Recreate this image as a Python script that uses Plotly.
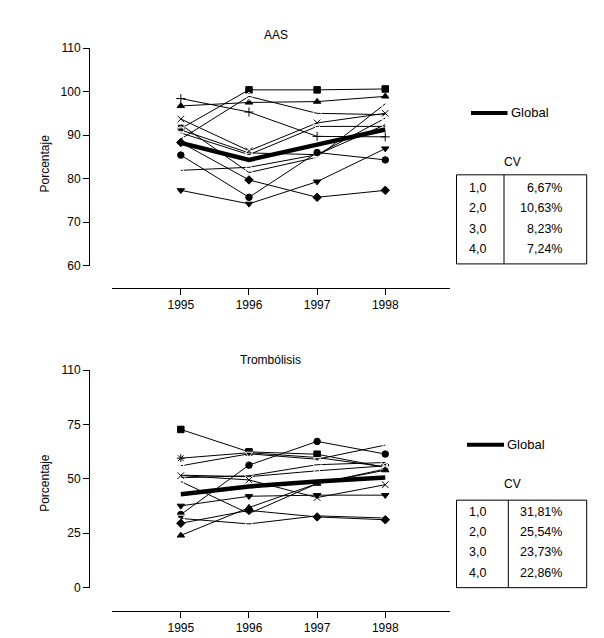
import plotly.graph_objects as go

# measured placement of the figure in the photographed page
OFF_X, OFF_Y, SCALE_Y = 8, 15, 0.977
W, H = 596, 638

years = [1995, 1996, 1997, 1998]

# ---- AAS (top panel) ----
aas_series = {
    "square": [91.5, 100.4, 100.4, 100.6],
    "cross-thin": [98.4, 95.3, 89.7, 89.6],
    "triangle-up": [96.7, 97.5, 97.7, 98.9],
    "diamond-open": [89.1, 98.9, 95.0, 94.7],
    "square-open": [92.4, 81.4, 84.9, 97.2],
    "x-thin": [93.7, 86.4, 92.8, 95.0],
    "triangle-down-open": [90.5, 85.5, 92.0, 92.0],
    "circle-open": [91.2, 85.9, 85.5, 92.4],
    "triangle-up-open": [81.9, 82.6, 85.5, 93.9],
    "circle": [85.4, 75.7, 86.0, 84.3],
    "triangle-down": [77.3, 74.2, 79.3, 86.9],
    "diamond": [88.3, 79.7, 75.7, 77.3],
}
aas_global = [88.2, 84.3, 87.8, 91.3]

aas_cv_group = ["1,0", "2,0", "3,0", "4,0"]
aas_cv_value = ["6,67%", "10,63%", "8,23%", "7,24%"]

# ---- Trombolisis (bottom panel) ----
trom_series = {
    "square": [72.7, 62.4, 61.3, 55.3],
    "asterisk": [59.5, 62.0, 59.8, 55.5],
    "triangle-down-open": [56.0, 61.5, 59.0, 65.5],
    "triangle-up-open": [51.7, 51.0, 53.7, 56.0],
    "diamond-open": [50.5, 51.4, 56.5, 57.5],
    "circle-open": [48.8, 34.0, 47.8, 54.5],
    "x-thin": [51.5, 49.5, 41.4, 47.3],
    "triangle-down": [37.6, 42.0, 42.5, 42.5],
    "circle": [33.6, 56.3, 67.2, 61.4],
    "square-open": [31.8, 29.3, 33.0, 32.0],
    "diamond": [29.6, 35.5, 32.5, 31.2],
    "triangle-up": [24.0, 36.8, 47.8, 54.0],
}
trom_global = [42.9, 46.5, 48.8, 50.6]

trom_cv_group = ["1,0", "2,0", "3,0", "4,0"]
trom_cv_value = ["31,81%", "25,54%", "23,73%", "22,86%"]

trom_ticks = [0, 25, 50, 75, 100]
trom_ticktext = ["0", "25", "50", "75", "110"]

FONT = "Liberation Sans, Arial, sans-serif"


def px_x(p):
    return (p - OFF_X) / W


def px_y(p):
    return 1 - (p / SCALE_Y - OFF_Y) / H


fig = go.Figure()

panels = [
    ("x", "y", aas_series, aas_global),
    ("x2", "y2", trom_series, trom_global),
]
for xa, ya, series, glob in panels:
    for sym, vals in series.items():
        open_sym = sym.endswith("-open") or sym in ("cross-thin", "x-thin", "asterisk")
        fig.add_trace(go.Scatter(
            x=years, y=vals, xaxis=xa, yaxis=ya, mode="lines+markers",
            line=dict(color="black", width=1),
            marker=dict(symbol=sym, size=6.5, color="white" if open_sym else "black",
                        line=dict(color="black", width=1)),
            showlegend=False, cliponaxis=False,
        ))
    fig.add_trace(go.Scatter(
        x=years, y=glob, xaxis=xa, yaxis=ya, mode="lines",
        line=dict(color="black", width=4.5), showlegend=False, cliponaxis=False,
    ))

xdom = [px_x(112), px_x(450)]
xrange_ = [1993.99, 1998.95]
xcommon = dict(domain=xdom, range=xrange_, tickvals=years, showline=True, linecolor="black",
               linewidth=1, ticks="outside", ticklen=6, tickcolor="black", showgrid=False,
               zeroline=False, tickfont=dict(size=12, color="black", family=FONT), anchor="free")
ycommon = dict(showline=True, linecolor="black", linewidth=1, ticks="outside", ticklen=6,
               tickcolor="black", showgrid=False, zeroline=False, anchor="free",
               position=px_x(89), tickfont=dict(size=12, color="black", family=FONT))

fig.update_layout(
    width=W, height=H, margin=dict(l=0, r=0, t=0, b=0),
    paper_bgcolor="white", plot_bgcolor="white",
    font=dict(family=FONT, size=12, color="black"),
    xaxis=dict(xcommon, position=px_y(287.3)),
    yaxis=dict(ycommon, domain=[px_y(265), px_y(47.7)], range=[60, 110],
               tickvals=[60, 70, 80, 90, 100, 110]),
    xaxis2=dict(xcommon, position=px_y(610)),
    yaxis2=dict(ycommon, domain=[px_y(586.7), px_y(369.3)], range=[0, 100],
                tickvals=trom_ticks, ticktext=trom_ticktext),
)

annotations = []
shapes = []


def add_text(text, x, y, xanchor="center", size=12, **kw):
    annotations.append(dict(text=text, x=px_x(x), y=px_y(y), xref="paper", yref="paper",
                            xanchor=xanchor, yanchor="middle", showarrow=False,
                            font=dict(size=size, color="black", family=FONT), **kw))


# titles and y labels
add_text("AAS", 276, 35)
add_text("Trombólisis", 270, 359)
add_text("Porcentaje", 45, 163, textangle=-90)
add_text("Porcentaje", 45, 482, textangle=-90)

# legend lines + CV tables
side = [
    (112.5, 161, 174.3, 263.3, 504, 187.7, 20.2, aas_cv_group, aas_cv_value, 471, 507.5),
    (444, 483, 499.3, 586.7, 508.3, 510.7, 20.4, trom_cv_group, trom_cv_value, 467, 504),
]
for ly, cvy, ty0, ty1, tdiv, row0, rowh, groups, values, lx0, lx1 in side:
    shapes.append(dict(type="line", xref="paper", yref="paper", x0=px_x(lx0), x1=px_x(lx1),
                       y0=px_y(ly), y1=px_y(ly), line=dict(color="black", width=4)))
    add_text("Global", lx1 + 1, ly, xanchor="left", size=13)
    add_text("CV", 512, cvy)
    shapes.append(dict(type="rect", xref="paper", yref="paper", x0=px_x(456.5), x1=px_x(586.7),
                       y0=px_y(ty1), y1=px_y(ty0), line=dict(color="black", width=1)))
    shapes.append(dict(type="line", xref="paper", yref="paper", x0=px_x(tdiv), x1=px_x(tdiv),
                       y0=px_y(ty1), y1=px_y(ty0), line=dict(color="black", width=1)))
    for i, (g, v) in enumerate(zip(groups, values)):
        add_text(g, 477, row0 + i * rowh, size=12.5)
        add_text(v, 564, row0 + i * rowh, xanchor="right", size=12.5)

fig.update_layout(annotations=annotations, shapes=shapes)

fig.write_html("out.html")
